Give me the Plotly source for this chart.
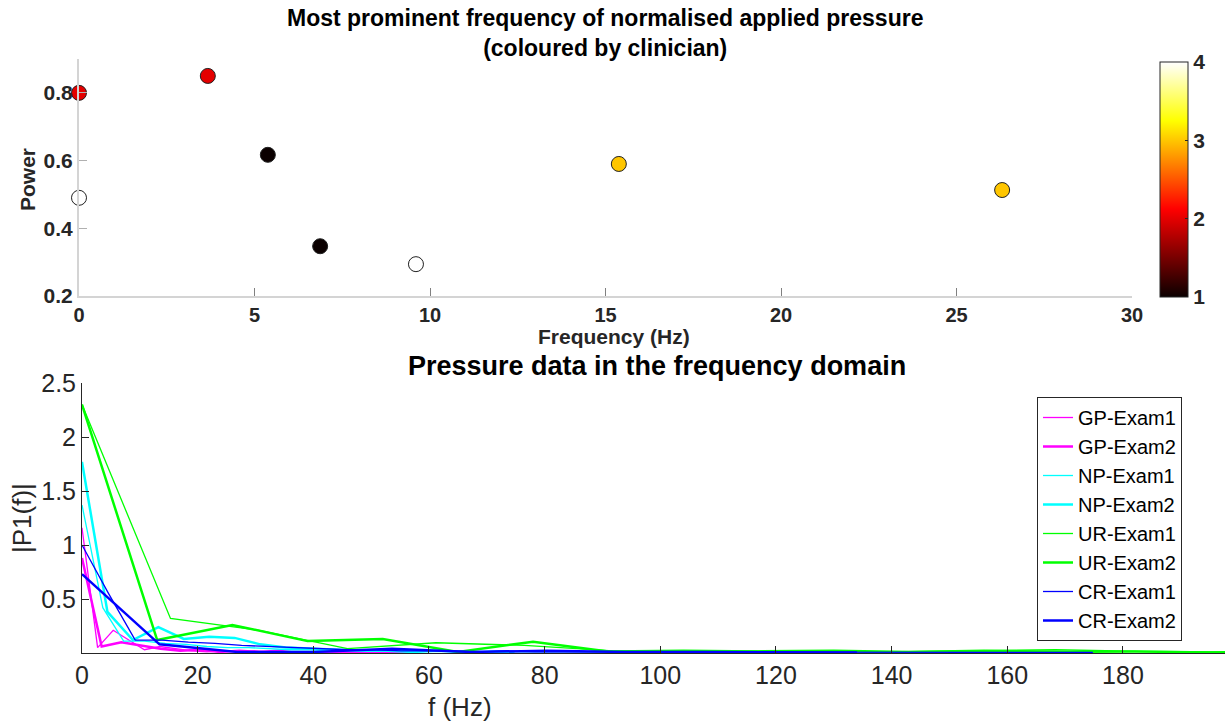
import plotly.graph_objects as go

# ---------------- Top chart data ----------------
top_freq = [0.0, 3.67, 5.38, 6.87, 0.0, 9.6, 15.38, 26.3]
top_power = [0.80, 0.85, 0.617, 0.347, 0.49, 0.294, 0.59, 0.513]
top_clinician = [2, 2, 1, 1, 4, 4, 3, 3]
top_xticks = [0, 5, 10, 15, 20, 25, 30]
top_yticks = [0.2, 0.4, 0.6, 0.8]
cbar_ticks = [1, 2, 3, 4]

# ---------------- Bottom chart data ----------------
gp1_f = [0, 2.7, 5.4, 8.1, 10.8, 13.5, 16.2, 18.9, 21.6, 24.3, 27.0, 29.7, 32.4, 35.1, 37.8,
         40.5, 43.2, 45.9, 48.6, 51.3, 54.0, 56.7]
gp1_p = [1.16, 0.05, 0.21, 0.12, 0.03, 0.06, 0.04, 0.02, 0.01, 0.02, 0.01, 0.02, 0.01, 0.01, 0.0,
         0.01, 0.01, 0.0, 0.01, 0.0, 0.01, 0.0]

gp2_f = [0, 3.4, 6.8, 10.2, 13.6, 17.0, 20.4, 23.8, 27.2, 30.6, 34.0, 37.4, 40.8, 44.2, 47.6,
         51.0, 54.4, 57.8]
gp2_p = [0.88, 0.06, 0.10, 0.07, 0.04, 0.02, 0.03, 0.01, 0.02, 0.01, 0.02, 0.0, 0.01, 0.01, 0.0,
         0.01, 0.0, 0.0]

np1_f = [0, 3.6, 7.2, 10.8, 14.4, 18.0, 21.6, 25.2, 28.8, 32.4, 36.0, 39.6, 43.2, 46.8, 50.4,
         54.0, 57.6, 61.2, 64.8, 68.4, 72.0, 75.6, 79.2, 82.8, 86.4, 90.0, 93.6, 97.2, 100.8,
         104.4, 108.0, 111.6, 115.2, 118.8, 122.4, 126.0, 129.6]
np1_p = [1.37, 0.42, 0.11, 0.11, 0.09, 0.08, 0.06, 0.05, 0.05, 0.04, 0.03, 0.03, 0.02, 0.02, 0.03,
         0.02, 0.01, 0.02, 0.01, 0.01, 0.02, 0.01, 0.01, 0.01, 0.01, 0.01, 0.02, 0.01, 0.01,
         0.01, 0.01, 0.01, 0.01, 0.01, 0.01, 0.01, 0.01]

np2_f = [0, 4.4, 8.8, 13.2, 17.6, 22.0, 26.4, 30.8, 35.2, 39.6, 44.0, 48.4, 52.8, 57.2, 61.6,
         66.0, 70.4, 74.8]
np2_p = [1.77, 0.38, 0.12, 0.24, 0.13, 0.15, 0.14, 0.08, 0.05, 0.04, 0.03, 0.02, 0.02, 0.01, 0.02,
         0.01, 0.01, 0.01]

ur1_f = [0, 15.3, 30.6, 45.9, 61.2, 76.5, 91.8, 107.1, 122.4, 137.7, 153.0, 168.3, 183.6, 198.9]
ur1_p = [2.3, 0.32, 0.21, 0.04, 0.095, 0.07, 0.02, 0.015, 0.02, 0.01, 0.02, 0.03, 0.015, 0.01]

ur2_f = [0, 13, 26, 39, 52, 65, 78, 91, 104, 117, 130, 143, 156, 169, 182, 195, 208]
ur2_p = [2.3, 0.12, 0.26, 0.11, 0.13, 0.01, 0.105, 0.015, 0.02, 0.015, 0.02, 0.01, 0.02, 0.01,
         0.015, 0.005, 0.01]

cr1_f = [0, 4.6, 9.2, 13.8, 18.4, 23.0, 27.6, 32.2, 36.8, 41.4, 46.0, 50.6, 55.2, 59.8, 64.4,
         69.0, 73.6, 78.2, 82.8, 87.4, 92.0, 96.6, 101.2, 105.8, 110.4, 115.0, 119.6, 124.2,
         128.8, 133.4, 138.0, 142.6, 147.2, 151.8, 156.4, 161.0, 165.6, 170.2, 174.8]
cr1_p = [1.0, 0.55, 0.12, 0.12, 0.10, 0.09, 0.07, 0.06, 0.05, 0.04, 0.03, 0.03, 0.02, 0.02, 0.02,
         0.01, 0.02, 0.01, 0.01, 0.01, 0.01, 0.01, 0.01, 0.01, 0.01, 0.01, 0.01, 0.01,
         0.01, 0.01, 0.01, 0.005, 0.005, 0.005, 0.01, 0.01, 0.005, 0.005, 0.005]

cr2_f = [0, 13.4, 26.8, 40.2, 53.6, 67.0, 80.4, 93.8, 107.2, 120.6, 134.0]
cr2_p = [0.73, 0.08, 0.01, 0.01, 0.04, 0.01, 0.02, 0.01, 0.01, 0.01, 0.005]

bottom_xticks = [0, 20, 40, 60, 80, 100, 120, 140, 160, 180]
bottom_yticks = [0.5, 1, 1.5, 2, 2.5]

series = [
    ("GP-Exam1", gp1_f, gp1_p, "#ff00ff", 1.3),
    ("GP-Exam2", gp2_f, gp2_p, "#ff00ff", 2.5),
    ("NP-Exam1", np1_f, np1_p, "#00ffff", 1.3),
    ("NP-Exam2", np2_f, np2_p, "#00ffff", 2.5),
    ("UR-Exam1", ur1_f, ur1_p, "#00ff00", 1.3),
    ("UR-Exam2", ur2_f, ur2_p, "#00ff00", 2.5),
    ("CR-Exam1", cr1_f, cr1_p, "#0000ff", 1.3),
    ("CR-Exam2", cr2_f, cr2_p, "#0000ff", 2.5),
]

W, H = 1225, 721
FONT = "Liberation Sans"
TXT = "#262626"

hot = [[0.0, "#0b0000"], [0.375, "#ff0000"], [0.75, "#ffff00"], [1.0, "#ffffff"]]

fig = go.Figure()

fig.add_trace(go.Scatter(
    x=top_freq, y=top_power, mode="markers", xaxis="x", yaxis="y",
    showlegend=False, cliponaxis=False,
    marker=dict(size=15, color=top_clinician, colorscale=hot, cmin=1, cmax=4,
                line=dict(color="#202020", width=1),
                colorbar=dict(
                    x=1160 / W, xanchor="left", y=1 - 62 / H, yanchor="top",
                    len=235 / H, lenmode="fraction", thickness=28, thicknessmode="pixels",
                    outlinecolor="#262626", outlinewidth=1, bgcolor="rgba(0,0,0,0)",
                    tickvals=cbar_ticks, ticks="inside", ticklen=3, tickcolor="#262626",
                    tickfont=dict(family=FONT, size=21, color=TXT, weight="bold"),
                    xpad=0, ypad=0)),
))

for name, f, p, col, lw in series:
    fig.add_trace(go.Scatter(
        x=f, y=p, mode="lines", name=name, xaxis="x2", yaxis="y2",
        line=dict(color=col, width=lw),
    ))

fig.update_layout(
    template="none",
    width=W, height=H, autosize=False,
    margin=dict(l=0, r=0, t=0, b=0, pad=0, autoexpand=False),
    paper_bgcolor="white", plot_bgcolor="white",
    font=dict(family=FONT, color=TXT),
    xaxis=dict(domain=[79 / W, 1132 / W], anchor="y", range=[0, 30], automargin=False,
               tickvals=top_xticks, showgrid=False, zeroline=False,
               showline=True, linecolor="#d4d4d4", linewidth=2,
               ticks="inside", ticklen=8, tickcolor="#808080", tickwidth=1,
               tickfont=dict(family=FONT, size=20, color=TXT, weight="bold")),
    yaxis=dict(domain=[1 - 296 / H, 1 - 59 / H], anchor="x", range=[0.2, 0.9], automargin=False,
               tickvals=top_yticks, ticktext=["0.2", "0.4", "0.6", "0.8"],
               showgrid=False, zeroline=False,
               showline=True, linecolor="#d4d4d4", linewidth=2,
               ticks="inside", ticklen=8, tickcolor="#b0b0b0", tickwidth=1,
               tickfont=dict(family=FONT, size=21, color=TXT, weight="bold")),
    xaxis2=dict(domain=[82 / W, 1.0], anchor="y2", range=[0, (W - 82) / 5.783], automargin=False,
                tickvals=bottom_xticks, showgrid=False, zeroline=False,
                showline=True, linecolor=TXT, linewidth=1,
                ticks="inside", ticklen=7, tickcolor=TXT, tickwidth=1,
                tickfont=dict(family=FONT, size=25, color=TXT)),
    yaxis2=dict(domain=[1 - 653 / H, 1 - 383 / H], anchor="x2", range=[0, 2.5], automargin=False,
                tickvals=bottom_yticks, ticktext=["0.5", "1", "1.5", "2", "2.5"],
                showgrid=False, zeroline=False,
                showline=True, linecolor=TXT, linewidth=1,
                ticks="inside", ticklen=7, tickcolor=TXT, tickwidth=1,
                tickfont=dict(family=FONT, size=25, color=TXT)),
    legend=dict(x=1037 / W, y=1 - 397 / H, xanchor="left", yanchor="top",
                bgcolor="white", bordercolor=TXT, borderwidth=1,
                font=dict(family=FONT, size=20, color="#000000"),
                tracegroupgap=0),
)

ann = [
    dict(text="Most prominent frequency of normalised applied pressure<br>(coloured by clinician)",
         x=605 / W, y=1 - 33 / H, font=dict(size=23, weight="bold", color="#000000")),
    dict(text="Frequency (Hz)", x=614 / W, y=1 - 336 / H,
         font=dict(size=21, weight="bold", color=TXT)),
    dict(text="Power", x=27 / W, y=1 - 180 / H, textangle=-90,
         font=dict(size=21, weight="bold", color=TXT)),
    dict(text="Pressure data in the frequency domain", x=657 / W, y=1 - 366 / H,
         font=dict(size=27, weight="bold", color="#000000")),
    dict(text="f (Hz)", x=460 / W, y=1 - 707 / H,
         font=dict(size=26, color=TXT)),
    dict(text="|P1(f)|", x=22 / W, y=1 - 518 / H, textangle=-90,
         font=dict(size=26, color=TXT)),
]
for a in ann:
    a.update(xref="paper", yref="paper", showarrow=False, xanchor="center", yanchor="middle")
    a["font"].setdefault("family", FONT)
fig.update_layout(annotations=ann)

fig.write_html(
    "out.html",
    config={"displayModeBar": False},
    post_script="document.body.style.margin='0';document.body.style.overflow='hidden';",
)
